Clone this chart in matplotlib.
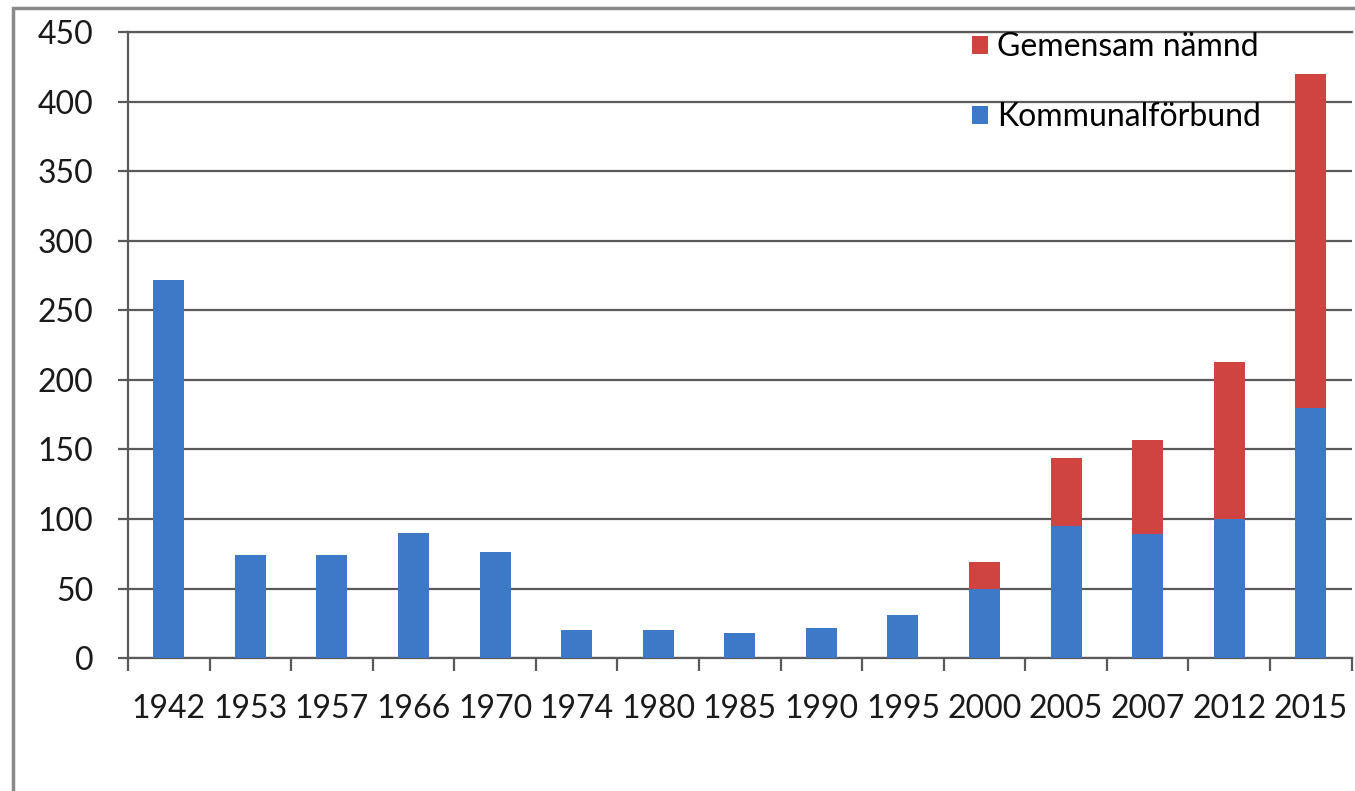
import matplotlib.pyplot as plt
import numpy as np
from matplotlib.patches import Rectangle

plt.rcParams['font.family'] = ['Lato', 'Liberation Sans', 'DejaVu Sans']

years = ['1942', '1953', '1957', '1966', '1970', '1974', '1980', '1985',
         '1990', '1995', '2000', '2005', '2007', '2012', '2015']
kommunalforbund = [272, 74, 74, 90, 76, 20, 20, 18, 22, 31, 50, 95, 89, 100, 180]
gemensam_namnd = [0, 0, 0, 0, 0, 0, 0, 0, 0, 0, 19, 49, 68, 113, 240]

blue = '#3d79c6'
red = '#cf4340'
line_col = '#5a5a5a'
text_col = '#1a1a1a'

fig = plt.figure(figsize=(13.55, 7.91), dpi=100)
ax = fig.add_axes([0.0945, 0.168, 0.903, 0.7915])

# ---- Outer frame (only left and top edges show) ----
fig.patches.append(Rectangle((13 / 1355, -0.2), 1.5, 0.2 + 1 - 8 / 791,
                             transform=fig.transFigure, fill=False,
                             edgecolor='#8a8a8a', linewidth=2.5))

# ---- Bars ----
x = np.arange(len(years))
ax.bar(x, kommunalforbund, width=0.38, color=blue, label='Kommunalförbund', zorder=3)
ax.bar(x, gemensam_namnd, width=0.38, bottom=kommunalforbund, color=red,
       label='Gemensam nämnd', zorder=3)

# ---- Axes ----
ax.set_xlim(-0.5, len(years) - 0.5)
ax.set_ylim(0, 450)
ax.set_yticks(np.arange(0, 451, 50))
ax.set_xticks(x)
ax.set_xticklabels(years)
ax.set_xticks(np.arange(-0.5, len(years), 1), minor=True)

ax.yaxis.grid(True, color=line_col, linewidth=1.6, zorder=0)
ax.set_axisbelow(True)

ax.spines['right'].set_visible(False)
for side in ['left', 'bottom', 'top']:
    ax.spines[side].set_color(line_col)
    ax.spines[side].set_linewidth(1.6)

ax.tick_params(axis='y', length=7, width=1.6, color=line_col, pad=18,
               labelsize=23, labelcolor=text_col)
ax.tick_params(axis='x', which='major', length=0, pad=26,
               labelsize=23, labelcolor=text_col)
ax.tick_params(axis='x', which='minor', length=9, width=1.6, color=line_col)

# ---- Legend ----
handles, labels = ax.get_legend_handles_labels()
ax.legend(handles[::-1], labels[::-1], loc='upper left', frameon=False,
          bbox_to_anchor=(0.679, 1.02), fontsize=23, handlelength=0.5,
          handleheight=0.5, handletextpad=0.3, labelspacing=1.25,
          borderaxespad=0)

fig.savefig('out.png', dpi=100)
